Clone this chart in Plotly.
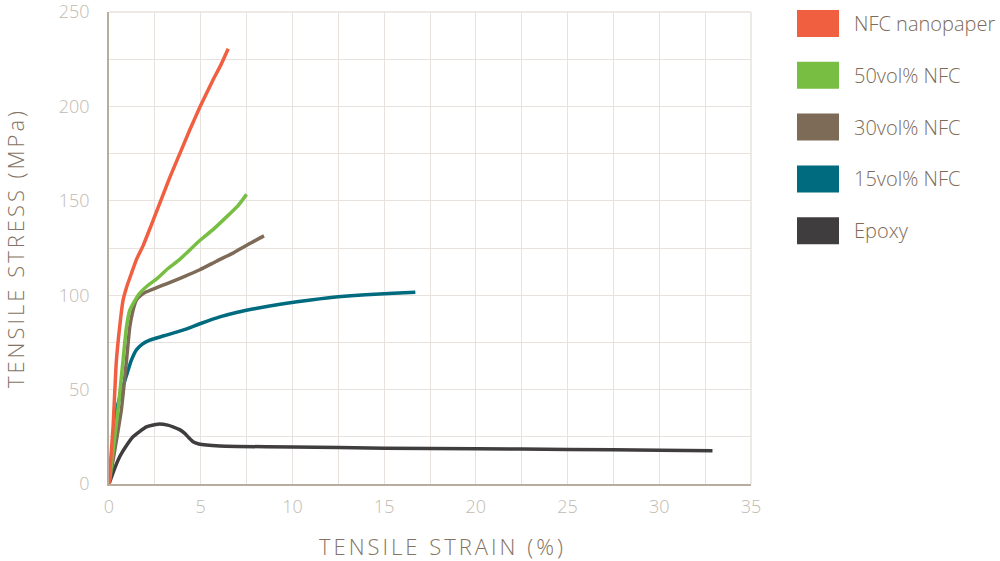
import plotly.graph_objects as go

# ---- data ----
nfc_x = [0, 0.22, 0.4, 0.58, 0.76, 0.95, 1.22, 1.5, 1.85, 2.3, 2.76, 3.3, 3.86, 4.4, 4.95, 5.67, 6.1, 6.5]
nfc_y = [0, 30, 65, 83, 97, 104, 111.5, 119, 126, 137, 148.5, 162, 175, 187.5, 199.5, 214, 222, 230.5]

v50_x = [0, 0.25, 0.5, 0.76, 0.95, 1.13, 1.4, 1.67, 2.1, 2.58, 3.2, 3.86, 4.95, 5.7, 6.4, 7.0, 7.5]
v50_y = [0, 20, 40, 65, 83, 92, 97, 101, 105, 108.5, 114, 119, 129, 135, 141.4, 147, 153.4]

v30_x = [0, 0.35, 0.67, 0.95, 1.13, 1.31, 1.49, 1.75, 2.04, 2.6, 3.13, 4.0, 4.95, 5.86, 6.8, 7.6, 8.45]
v30_y = [0, 20, 39, 65, 83, 92, 97.4, 100, 101.8, 104, 106, 109.5, 113.5, 118, 122.5, 127, 131.4]

v15_x = [0, 0.2, 0.4, 0.76, 1.0, 1.22, 1.49, 1.8, 2.22, 3.0, 4.03, 5.0, 6.04, 7.0, 8.0, 9.5, 11, 12.5, 14, 15.5, 16.7]
v15_y = [0, 20, 39, 51.5, 59, 65.6, 71, 74, 76.2, 78.5, 81.5, 85, 88.5, 91, 93, 95.5, 97.5, 99.2, 100.3, 101, 101.5]

epoxy_x = [0, 0.3, 0.58, 1.0, 1.31, 2.04, 2.67, 3.2, 3.49, 3.85, 4.13, 4.35, 4.58, 4.9, 5.31, 6.04, 7, 10, 15, 20, 25, 30, 32.9]
epoxy_y = [0, 8, 14.4, 21, 25, 30.3, 31.7, 31.2, 30.3, 28.8, 26.8, 24.5, 22.4, 21.2, 20.6, 20.1, 19.9, 19.6, 19, 18.7, 18.3, 17.9, 17.6]

series_names = ["NFC nanopaper", "50vol% NFC", "30vol% NFC", "15vol% NFC", "Epoxy"]
series_colors = ["#f15f41", "#78be43", "#7d6b57", "#006b7f", "#3f3d3e"]
series_x = [nfc_x, v50_x, v30_x, v15_x, epoxy_x]
series_y = [nfc_y, v50_y, v30_y, v15_y, epoxy_y]

x_ticks = [0, 5, 10, 15, 20, 25, 30, 35]
y_ticks = [0, 50, 100, 150, 200, 250]
x_title = "TENSILE STRAIN (%)"
y_title = "TENSILE STRESS (MPa)"

# ---- layout constants (pixels) ----
W, H = 1000, 561
L, R, T, B = 109, 249, 12, 77
plot_w = W - L - R
plot_h = H - T - B

def px2paper_x(px):
    return (px - L) / plot_w

def px2paper_y(py):
    return (H - B - py) / plot_h

fig = go.Figure()

# draw later series first so red stays on top like in reference
for name, color, xs, ys in list(zip(series_names, series_colors, series_x, series_y))[::-1]:
    fig.add_trace(go.Scatter(
        x=xs, y=ys, mode="lines", name=name,
        line=dict(color=color, width=3.5, shape="spline", smoothing=0.5),
        showlegend=False, hoverinfo="x+y+name",
    ))

grid_c = "#e7e2dd"
axis_c = "#b8ac9e"
tick_c = "#c2bab0"
title_c = "#847362"
font_family = "Open Sans, Noto Sans, sans-serif"

fig.update_layout(
    width=W, height=H,
    margin=dict(l=L, r=R, t=T, b=B, autoexpand=False),
    paper_bgcolor="white", plot_bgcolor="white",
    font=dict(family=font_family),
    xaxis=dict(
        range=[0, 35], tickvals=x_ticks, showgrid=True, gridcolor=grid_c, gridwidth=1,
        minor=dict(dtick=2.5, tick0=0, showgrid=True, gridcolor=grid_c, gridwidth=1),
        showline=True, linecolor=axis_c, linewidth=1.5, zeroline=False,
        ticks="outside", ticklen=6, tickcolor="rgba(0,0,0,0)",
        ticklabeloverflow="allow", automargin=False,
        tickfont=dict(size=18, color=tick_c, family=font_family, weight=300),
        fixedrange=True,
    ),
    yaxis=dict(
        range=[0, 250], tickvals=y_ticks, showgrid=True, gridcolor=grid_c, gridwidth=1,
        minor=dict(dtick=25, tick0=0, showgrid=True, gridcolor=grid_c, gridwidth=1),
        showline=True, linecolor=axis_c, linewidth=1.5, zeroline=False,
        ticks="outside", ticklen=14, tickcolor="rgba(0,0,0,0)",
        ticklabeloverflow="allow", automargin=False,
        tickfont=dict(size=18, color=tick_c, family=font_family, weight=300),
        title=dict(text='<span style="letter-spacing:3px">' + y_title + '</span>',
                   font=dict(size=22, color=title_c, family=font_family, weight=300), standoff=31),
        fixedrange=True,
    ),
)

# x-axis title placed as annotation to match the reference's offset centre
fig.add_annotation(xref="paper", yref="paper", x=px2paper_x(443), y=px2paper_y(546),
                   text='<span style="letter-spacing:3px">' + x_title + '</span>',
                   showarrow=False, xanchor="center", yanchor="middle",
                   font=dict(size=22, color=title_c, family=font_family, weight=300))

# top and right border of plot area (light grid colour)
fig.add_shape(type="line", xref="paper", yref="paper", x0=0, x1=1, y0=1, y1=1,
              line=dict(color=grid_c, width=1.5))
fig.add_shape(type="line", xref="paper", yref="paper", x0=1, x1=1, y0=0, y1=1,
              line=dict(color=grid_c, width=1.5))

# custom legend: large colour squares + labels
sq_x0, sq_x1 = 797, 839
row_top0, row_step, sq_h = 10, 51.8, 27
for i, (name, color) in enumerate(zip(series_names, series_colors)):
    top = row_top0 + i * row_step
    fig.add_shape(type="rect", xref="paper", yref="paper",
                  x0=px2paper_x(sq_x0), x1=px2paper_x(sq_x1),
                  y0=px2paper_y(top + sq_h), y1=px2paper_y(top),
                  fillcolor=color, line=dict(width=0))
    fig.add_annotation(xref="paper", yref="paper",
                       x=px2paper_x(852), y=px2paper_y(top + sq_h / 2),
                       text=name, showarrow=False, xanchor="left", yanchor="middle",
                       font=dict(size=20, color="#7d6b57", family=font_family, weight=300))

fig.write_html("out.html")
